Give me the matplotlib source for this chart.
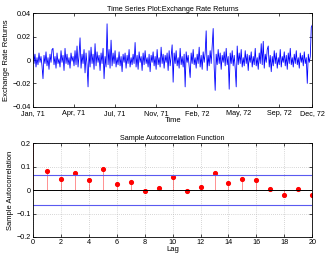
import matplotlib
matplotlib.use("Agg")
import matplotlib.pyplot as plt
import numpy as np

# daily exchange rate returns in units of 0.001
returns_milli = [
    20, -3, 5, -6, 2, -4, 6, -2, 3, -5, -16, 4, -3, 7, -5, 2, -8, 5, -2, 9,
    10, -4, 3, -7, 6, -3, 1, -6, 8, -2, 4, -9, 10, -3, 5, -4, 2, -7, 6, -1,
    3, -5, 8, -4, 12, -6, 4, 19, -7, 5, -3, 9, -11, 6, -4, -23, 8, -6, 11, -3,
    5, -8, 14, -5, 7, -2, 4, -9, 6, -3, 10, -16, 3, -6, 31, -4, 9, -7, 17, -5,
    6, -3, 8, -6, 2, -4, 7, -5, 3, -10, 5, -2, 6, -7, 4, -3, 9, -6, 2, -4,
    5, -3, 15, -6, 4, -8, 7, -2, 3, -9, 6, -4, 8, -3, 2, -6, 5, -10, 4, -2,
    7, -5, 3, -8, 9, -4, 2, -6, 11, -3, 5, -7, 4, -2, 6, -9, 8, -5, 3, 13,
    -19, 6, -3, 8, -5, 2, -7, 10, -4, 3, -6, 5, -23, 7, -2, 4, -5, -15, 6, -3,
    9, -4, 2, -7, 5, -3, 11, -6, 4, -8, 7, -2, 6, 25, -9, 4, -5, 8, -3, 12,
    27, -6, -26, 5, -4, 9, -3, 6, -8, 4, -2, 7, -5, 10, -4, 3, -25, 6, -3, 8,
    -5, 4, -7, -23, 12, -4, 6, -3, 9, -6, 2, -5, 8, -3, 5, -9, 4, -2, 7, -6,
    3, -4, 10, -5, 2, -8, 6, -3, 14, -4, 16, -7, 5, -2, 9, 12, -6, 4, -10, 3,
    -5, 8, -3, 6, -7, 2, -4, 9, -6, 3, -2, 7, -5, 4, -8, 6, -3, 10, -4, 2,
    -6, 5, -3, 8, -4, 2, -7, 6, -2, 4, -5, 7, -3, 2, -20, 5, -2, 3, 28, 30,
]
date_labels = ["Jan, 71", "Apr, 71", "Jul, 71", "Nov, 71", "Feb, 72", "May, 72", "Sep, 72", "Dec, 72"]
date_ticks = [0, 41, 82, 123, 164, 205, 246, 279]

lags = list(range(21))
acf = [1.0, 0.079, 0.047, 0.073, 0.044, 0.091, 0.024, 0.033, -0.004, 0.010, 0.056,
       -0.003, 0.013, 0.071, 0.031, 0.047, 0.041, 0.004, -0.023, 0.004, -0.023]
conf_bound = 0.063

plt.rcParams["font.family"] = ["Liberation Sans", "DejaVu Sans"]
plt.rcParams["font.size"] = 5
plt.rcParams["axes.linewidth"] = 0.6

fig = plt.figure(figsize=(3.26, 2.58), dpi=100)
ax1 = fig.add_axes([0.1012, 0.5864, 0.8567, 0.362])
ax2 = fig.add_axes([0.1012, 0.0814, 0.8567, 0.3643])

r = np.array(returns_milli) / 1000.0
ax1.plot(np.arange(len(r)), r, color="blue", lw=0.6)
ax1.set_xlim(0, len(r) - 1)
ax1.set_ylim(-0.04, 0.04)
ax1.set_xticks(date_ticks)
ax1.set_xticklabels(date_labels)
ax1.set_yticks([-0.04, -0.02, 0, 0.02, 0.04])
ax1.set_yticklabels(["\u22120.04", "\u22120.02", "0", "0.02", "0.04"])
ax1.set_title("Time Series Plot:Exchange Rate Returns", fontsize=5.2, pad=2)
ax1.set_xlabel("Time", fontsize=5.5, labelpad=0)
ax1.set_ylabel("Exchange Rate Returns", fontsize=5.5, labelpad=2)

markerline, stemlines, baseline = ax2.stem(lags, acf, basefmt=" ")
stemlines.set_color("red")
stemlines.set_linewidth(0.5)
stemlines.set_alpha(0.6)
markerline.set_color("red")
markerline.set_markersize(2.7)
ax2.axhline(0, color="black", lw=0.7)
ax2.axhline(conf_bound, color="#5a5af0", lw=0.8)
ax2.axhline(-conf_bound, color="#5a5af0", lw=0.8)
ax2.set_xlim(0, 20)
ax2.set_ylim(-0.2, 0.2)
ax2.set_xticks(range(0, 21, 2))
ax2.set_yticks([-0.2, -0.1, 0, 0.1, 0.2])
ax2.set_yticklabels(["\u22120.2", "\u22120.1", "0", "0.1", "0.2"])
ax2.grid(True, linestyle=(0, (1, 2)), color="#b0b0b0", lw=0.5)
ax2.set_title("Sample Autocorrelation Function", fontsize=5.2, pad=2)
ax2.set_xlabel("Lag", fontsize=5.5, labelpad=0)
ax2.set_ylabel("Sample Autocorrelation", fontsize=5.5, labelpad=2)

for ax in (ax1, ax2):
    ax.tick_params(direction="in", length=2, width=0.5, top=True, right=True, pad=1.5, labelsize=5.2)
ax1.tick_params(axis="x", pad=2.5)

fig.savefig("out.png", dpi=100)
